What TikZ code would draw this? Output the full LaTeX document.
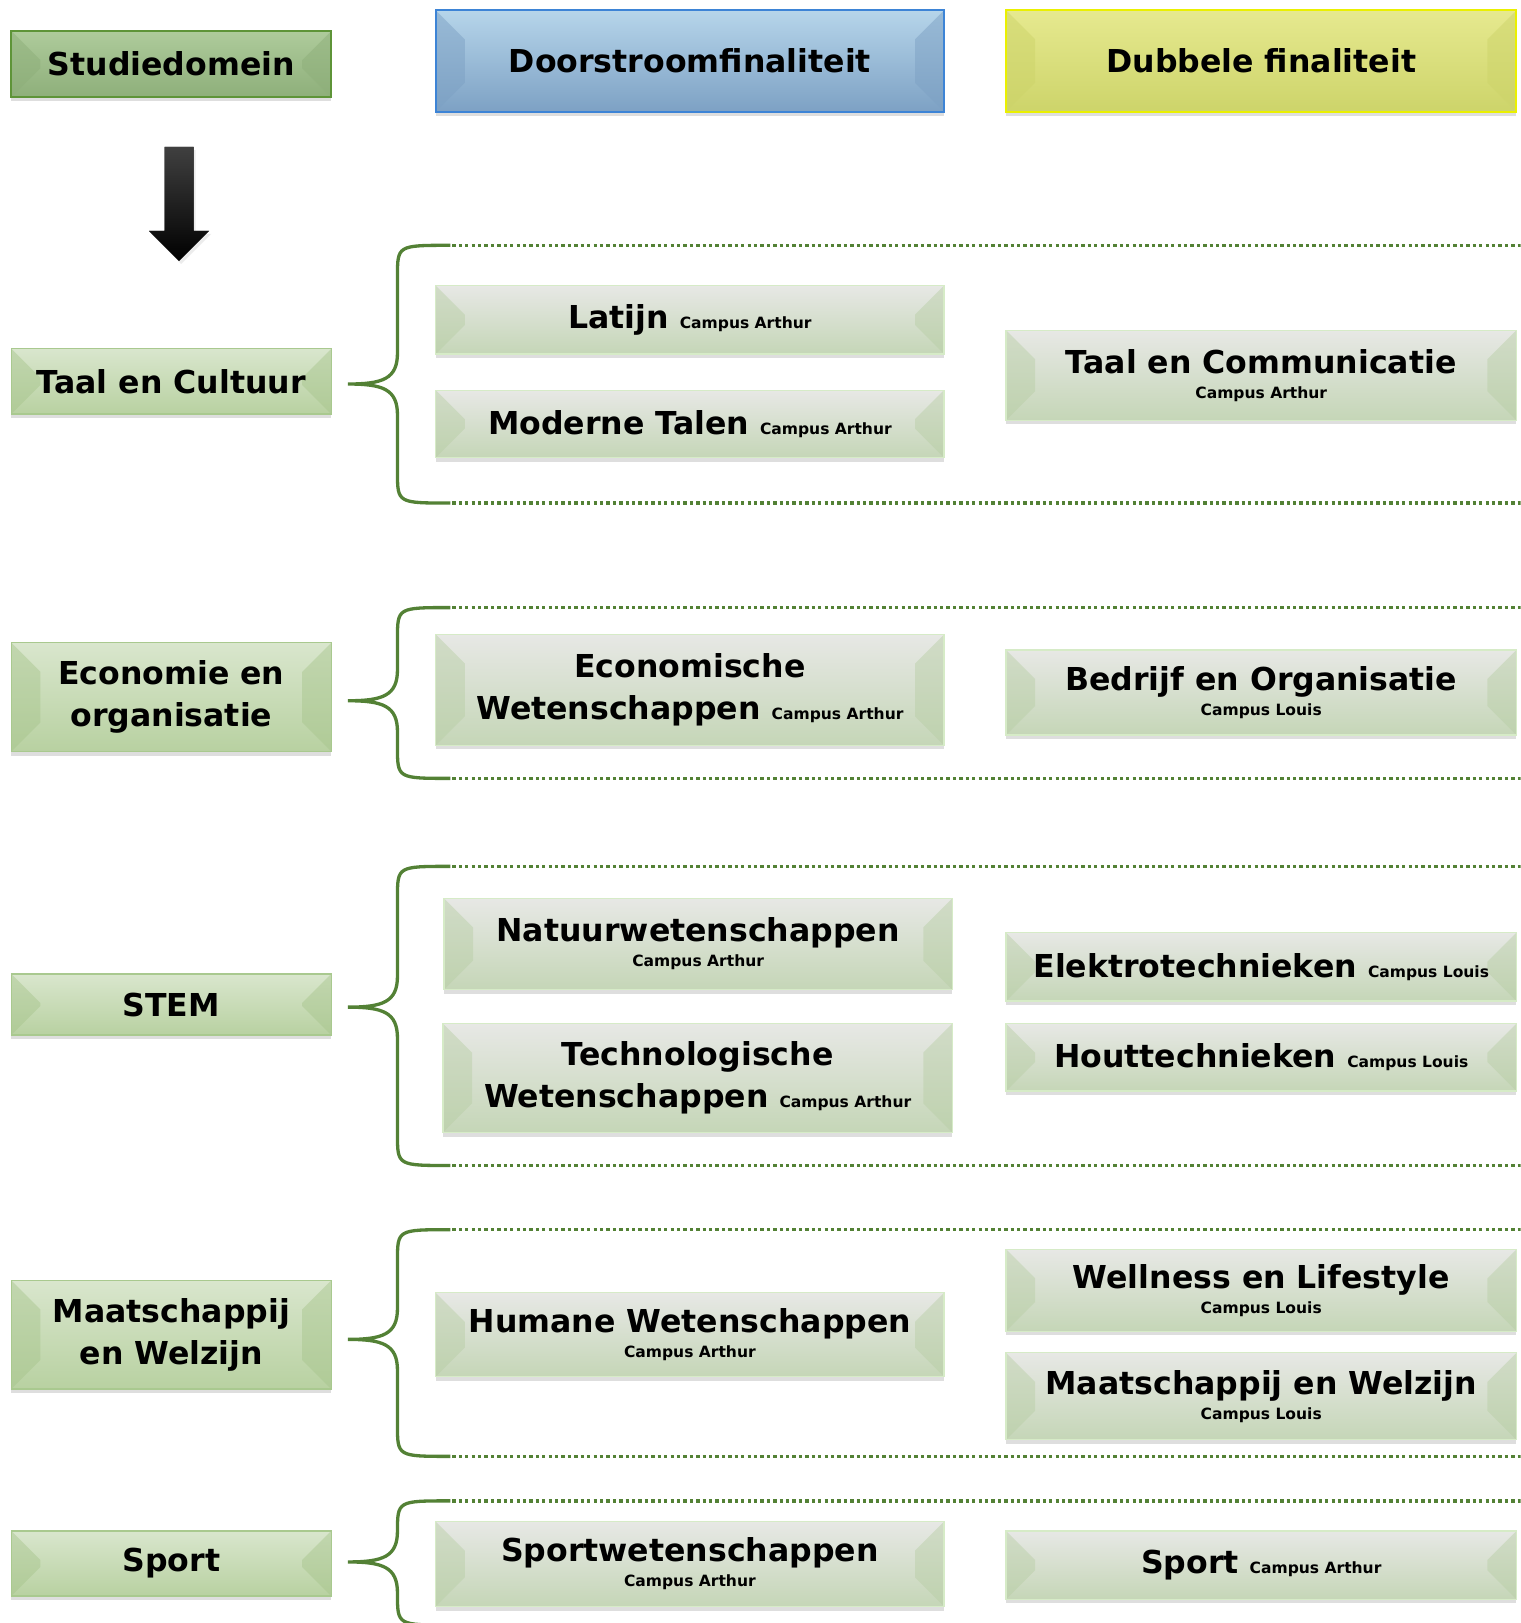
\documentclass[tikz,border=0pt]{standalone}
\usepackage{fontspec}
\setmainfont{DejaVu Sans}
\usetikzlibrary{positioning}
\usetikzlibrary{shadows}
\definecolor{braceGreen}{HTML}{538135}
\definecolor{domTop}{HTML}{D9E6CD}
\definecolor{domBot}{HTML}{B8D1A1}
\definecolor{domRand}{HTML}{A9C98F}
\definecolor{domBevel}{HTML}{A6C48B}
\definecolor{oplTop}{HTML}{E7E8E5}
\definecolor{oplBot}{HTML}{C5D6B7}
\definecolor{oplRand}{HTML}{D6EBC7}
\definecolor{oplBevel}{HTML}{B7CDA4}
\definecolor{stuTop}{HTML}{AECB9B}
\definecolor{stuBot}{HTML}{8EAF7A}
\definecolor{stuRand}{HTML}{5E9438}
\definecolor{doorTop}{HTML}{B6D5EA}
\definecolor{doorBot}{HTML}{7DA1C4}
\definecolor{doorRand}{HTML}{3D84D6}
\definecolor{dubTop}{HTML}{E6E98F}
\definecolor{dubBot}{HTML}{CDD46A}
\definecolor{dubRand}{HTML}{EAF000}
\newcommand{\campus}[1]{{\fontsize{15}{18}\selectfont #1}}
% brace plus the two dotted lines of one group: top, tip, bottom
\newcommand{\groep}[3]{%
  \draw[accolade] (435,#1) .. controls (384,#1) .. (384,#1+30) -- (384,#2-30)
    .. controls (384,#2-5) and (370,#2) .. (336,#2)
    .. controls (370,#2) and (384,#2+5) .. (384,#2+30) -- (384,#3-30)
    .. controls (384,#3) .. (435,#3);
  \draw[stippel] (437,#1) -- (1469,#1);
  \draw[stippel] (437,#3) -- (1469,#3);
}

\begin{document}
\begin{tikzpicture}[
        x=1pt, y=-1pt,
        every node/.style={font=\fontsize{30.5}{41}\selectfont\bfseries, align=center, inner sep=0pt},
        bevel/.style={path picture={
          \fill[#1] (path picture bounding box.north west) -- ++(28pt,-28pt)
            -- ([shift={(28pt,28pt)}]path picture bounding box.south west)
            -- (path picture bounding box.south west) -- cycle;
          \fill[#1] (path picture bounding box.north east) -- ++(-28pt,-28pt)
            -- ([shift={(-28pt,28pt)}]path picture bounding box.south east)
            -- (path picture bounding box.south east) -- cycle;}},
        blok/.style={rectangle, line width=1.2pt,
                     drop shadow={shadow xshift=0pt, shadow yshift=-4pt, opacity=.13, fill=black}},
        domein/.style={blok, minimum width=309, draw=domRand,
                       top color=domTop, bottom color=domBot,
                       bevel={domBevel, opacity=.45}},
        opleiding/.style={blok, minimum width=491, draw=oplRand,
                          top color=oplTop, bottom color=oplBot,
                          bevel={oplBevel, opacity=.45}},
        dubbelbox/.style={opleiding, minimum width=493},
        kop/.style={blok, line width=1.8pt},
        accolade/.style={draw=braceGreen, line width=3.2pt},
        stippel/.style={draw=braceGreen, line width=3.2pt, dash pattern=on 3.2pt off 3pt}
      ]
      \useasboundingbox (0,0) rectangle (1469,1568);
      \clip (0,0) rectangle (1469,1568);

      % Header row
      \node[kop, minimum width=309, minimum height=64, draw=stuRand,
            top color=stuTop, bottom color=stuBot,
            bevel={stuBot, opacity=.5}] (studie) at (165.5,62) {Studiedomein};
      \node[kop, minimum width=491, minimum height=98, draw=doorRand,
            top color=doorTop, bottom color=doorBot,
            bevel={doorBot, opacity=.5}] (doorstroom) at (666.5,59) {Doorstroomfinaliteit};
      \node[kop, minimum width=493, minimum height=98, draw=dubRand,
            top color=dubTop, bottom color=dubBot,
            bevel={dubBot, opacity=.5}] (dubbel) at (1218.5,59) {Dubbele finaliteit};

      % Arrow under Studiedomein
      \fill[top color=black!75, bottom color=black, drop shadow={shadow xshift=2pt, shadow yshift=-3pt, opacity=.15}]
        (159,142) -- (187,142) -- (187,223) -- (202,223) -- (173,252) -- (144,223) -- (159,223) -- cycle;

      % Group 1: Taal en Cultuur
      \groep{237}{371}{486}
      \node[domein, minimum height=63] (taal) at (165.5,368.5) {Taal en Cultuur};
      \node[opleiding, minimum height=66] (latijn) at (666.5,309) {Latijn \campus{Campus Arthur}};
      \node[opleiding, minimum height=65] (moderne) at (666.5,409.5) {Moderne Talen \campus{Campus Arthur}};
      \node[dubbelbox, minimum height=87] (taalcomm) at (1218.5,362.5) {Taal en Communicatie\\[-17pt]\campus{Campus Arthur}};

      % Group 2: Economie en organisatie
      \groep{587}{677}{752}
      \node[domein, minimum height=105] (economie) at (165.5,673.5) {Economie en\\organisatie};
      \node[opleiding, minimum height=107] (econwet) at (666.5,666.5) {Economische\\Wetenschappen \campus{Campus Arthur}};
      \node[dubbelbox, minimum height=82] (bedrijf) at (1218.5,669) {Bedrijf en Organisatie\\[-17pt]\campus{Campus Louis}};

      % Group 3: STEM
      \groep{837}{973}{1126}
      \node[domein, minimum height=59] (stem) at (165.5,970.5) {STEM};
      \node[opleiding, minimum height=88] (natuur) at (674.5,912) {Natuurwetenschappen\\[-17pt]\campus{Campus Arthur}};
      \node[opleiding, minimum width=492, minimum height=105] (techno) at (674,1041.5) {Technologische\\Wetenschappen \campus{Campus Arthur}};
      \node[dubbelbox, minimum height=66] (elektro) at (1218.5,934) {Elektrotechnieken \campus{Campus Louis}};
      \node[dubbelbox, minimum height=65] (hout) at (1218.5,1021.5) {Houttechnieken \campus{Campus Louis}};

      % Group 4: Maatschappij en Welzijn
      \groep{1188}{1294}{1407}
      \node[domein, minimum height=105] (maatsch) at (165.5,1289.5) {Maatschappij\\en Welzijn};
      \node[opleiding, minimum height=81] (humane) at (666.5,1289.5) {Humane Wetenschappen\\[-17pt]\campus{Campus Arthur}};
      \node[dubbelbox, minimum height=79] (wellness) at (1218.5,1246.5) {Wellness en Lifestyle\\[-17pt]\campus{Campus Louis}};
      \node[dubbelbox, minimum height=84] (maatschr) at (1218.5,1349) {Maatschappij en Welzijn\\[-17pt]\campus{Campus Louis}};

      % Group 5: Sport
      \groep{1450}{1509}{1570}
      \node[domein, minimum height=63] (sport) at (165.5,1510.5) {Sport};
      \node[opleiding, minimum height=82] (sportwet) at (666.5,1511) {Sportwetenschappen\\[-17pt]\campus{Campus Arthur}};
      \node[dubbelbox, minimum height=66] (sportr) at (1218.5,1512) {Sport \campus{Campus Arthur}};
    \end{tikzpicture}
\end{document}
